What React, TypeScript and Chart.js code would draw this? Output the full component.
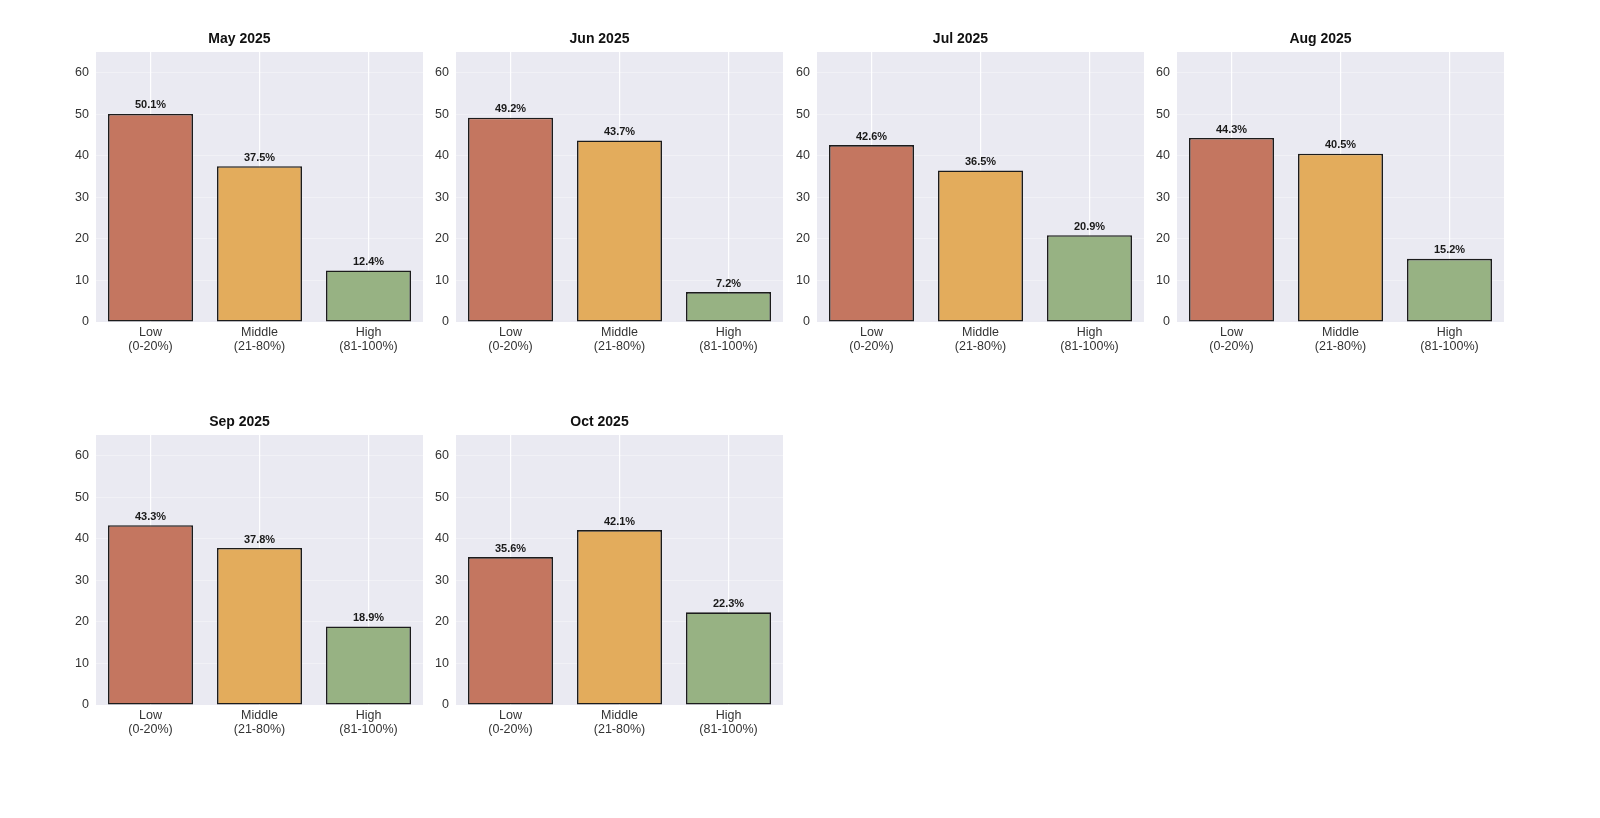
import { useEffect, useRef } from 'react'
import { Chart, registerables, type ChartOptions, type Plugin } from 'chart.js'

Chart.register(...registerables)

const months = ['May 2025', 'Jun 2025', 'Jul 2025', 'Aug 2025', 'Sep 2025', 'Oct 2025']
const categories = [
  ['Low', '(0-20%)'],
  ['Middle', '(21-80%)'],
  ['High', '(81-100%)'],
]
const lowValues = [50.1, 49.2, 42.6, 44.3, 43.3, 35.6]
const middleValues = [37.5, 43.7, 36.5, 40.5, 37.8, 42.1]
const highValues = [12.4, 7.2, 20.9, 15.2, 18.9, 22.3]
const yTicks = [0, 10, 20, 30, 40, 50, 60]

const BAR_COLORS = ['#C47660', '#E3AC5C', '#97B283']
const FONT = "'Liberation Sans', Arial, sans-serif"

// plot-area placement of each small multiple
const COL_LEFT = [96, 456, 817, 1177]
const ROW_TOP = [52, 435]
const PLOT_W = 327
const PLOT_H = 270
const Y_AXIS_W = 40
const TITLE_H = 24
const X_AXIS_H = 36

const valueLabels: Plugin<'bar'> = {
  id: 'valueLabels',
  afterDatasetsDraw(chart) {
    const { ctx } = chart
    const meta = chart.getDatasetMeta(0)
    const data = chart.data.datasets[0].data as number[]
    ctx.save()
    ctx.font = `bold 11px ${FONT}`
    ctx.fillStyle = '#1a1a1a'
    ctx.textAlign = 'center'
    ctx.textBaseline = 'bottom'
    meta.data.forEach((bar, i) => {
      ctx.fillText(`${data[i].toFixed(1)}%`, bar.x, bar.y - 3)
    })
    ctx.restore()
  },
}

const plotBackground: Plugin<'bar'> = {
  id: 'plotBackground',
  beforeDraw(chart) {
    const { ctx, chartArea } = chart
    if (!chartArea) return
    ctx.save()
    ctx.fillStyle = '#EAEAF2'
    ctx.fillRect(chartArea.left, chartArea.top, chartArea.right - chartArea.left, chartArea.bottom - chartArea.top)
    ctx.restore()
  },
}

function panelOptions(title: string): ChartOptions<'bar'> {
  return {
    responsive: false,
    animation: false,
    layout: { padding: 0 },
    plugins: {
      legend: { display: false },
      tooltip: { enabled: false },
      title: {
        display: true,
        text: title,
        color: '#111',
        font: { family: FONT, size: 14, weight: 'bold', lineHeight: 1.2 },
        padding: { top: 3, bottom: TITLE_H - 3 - 16.8 },
      },
    },
    scales: {
      x: {
        offset: true,
        grid: { display: true, offset: false, color: 'rgba(255,255,255,0.95)', lineWidth: 1.2, drawTicks: false },
        border: { display: false },
        ticks: {
          color: '#333',
          padding: 4,
          maxRotation: 0,
          font: { family: FONT, size: 12.5, lineHeight: 1.1 },
        },
        afterFit(axis) {
          axis.height = X_AXIS_H
        },
      },
      y: {
        min: 0,
        max: 65,
        afterBuildTicks(axis) {
          axis.ticks = yTicks.map((v) => ({ value: v }))
        },
        grid: { color: 'rgba(255,255,255,0.35)', lineWidth: 1, drawTicks: false },
        border: { display: false },
        ticks: {
          color: '#333',
          padding: 7,
          font: { family: FONT, size: 12.5 },
        },
        afterFit(axis) {
          axis.width = Y_AXIS_W
        },
      },
    },
  }
}

function Panel({ index }: { index: number }) {
  const canvasRef = useRef<HTMLCanvasElement>(null)

  useEffect(() => {
    const canvas = canvasRef.current
    if (!canvas) return
    Chart.getChart(canvas)?.destroy()
    const chart = new Chart(canvas, {
      type: 'bar',
      data: {
        labels: categories,
        datasets: [
          {
            data: [lowValues[index], middleValues[index], highValues[index]],
            backgroundColor: BAR_COLORS,
            borderColor: '#1c1c1c',
            borderWidth: 1.6,
            borderSkipped: false,
            barPercentage: 0.78,
            categoryPercentage: 1,
          },
        ],
      },
      options: panelOptions(months[index]),
      plugins: [plotBackground, valueLabels],
    })
    return () => chart.destroy()
  }, [index])

  const col = index % 4
  const row = Math.floor(index / 4)
  const width = Y_AXIS_W + PLOT_W
  const height = TITLE_H + PLOT_H + X_AXIS_H

  return (
    <div
      style={{
        position: 'absolute',
        left: COL_LEFT[col] - Y_AXIS_W,
        top: ROW_TOP[row] - TITLE_H,
        width,
        height,
      }}
    >
      <canvas ref={canvasRef} width={width} height={height} style={{ width, height, display: 'block' }} />
    </div>
  )
}

export default function App() {
  useEffect(() => {
    document.body.style.margin = '0'
    document.body.style.background = '#ffffff'
  }, [])

  return (
    <div style={{ position: 'relative', width: 1600, height: 818, background: '#fff' }}>
      {months.map((m, i) => (
        <Panel key={m} index={i} />
      ))}
    </div>
  )
}
